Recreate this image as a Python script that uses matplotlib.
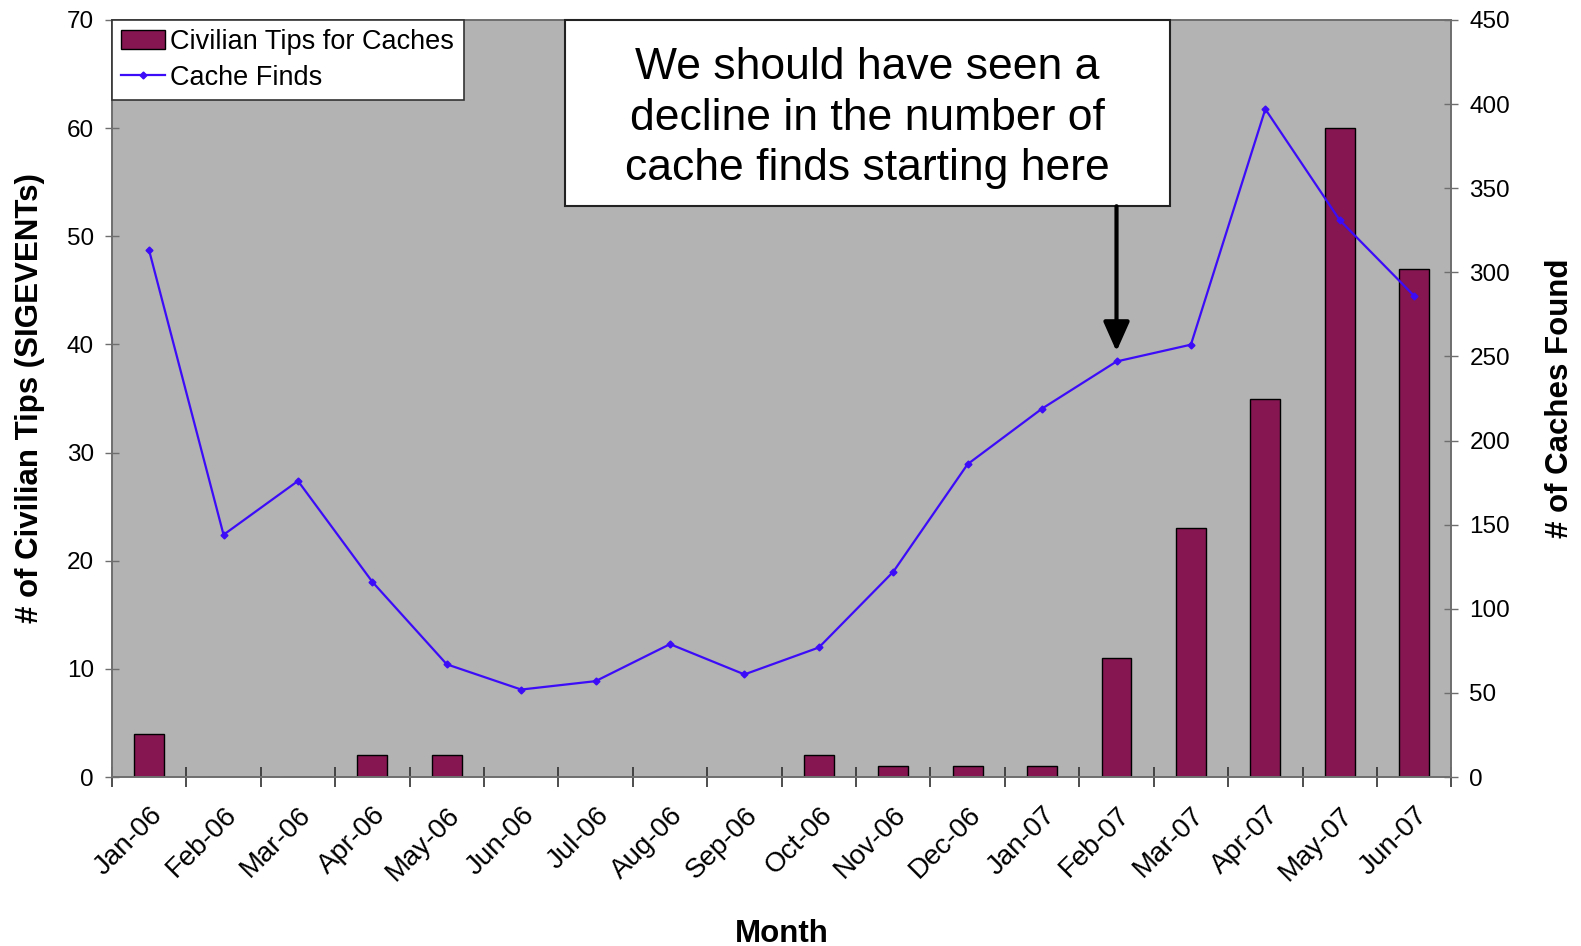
"""Civilian tips vs cache finds, Jan-06 to Jun-07."""
import matplotlib
matplotlib.use("Agg")
import matplotlib.pyplot as plt
import matplotlib.transforms as mtransforms
from matplotlib.patches import Rectangle
from matplotlib.lines import Line2D
import numpy as np

plt.rcParams["font.family"] = ["Liberation Sans", "DejaVu Sans"]

MONTHS = ["Jan-06", "Feb-06", "Mar-06", "Apr-06", "May-06", "Jun-06",
          "Jul-06", "Aug-06", "Sep-06", "Oct-06", "Nov-06", "Dec-06",
          "Jan-07", "Feb-07", "Mar-07", "Apr-07", "May-07", "Jun-07"]
TIPS = [4, 0, 0, 2, 2, 0, 0, 0, 0, 2, 1, 1, 1, 11, 23, 35, 60, 47]
CACHE_FINDS = [313, 144, 176, 116, 67, 52, 57, 79, 61, 77, 122, 186,
               219, 247, 257, 397, 331, 286]

BAR_COLOR = "#861651"
LINE_COLOR = "#3C0CF8"
BG_COLOR = "#B3B3B3"
SPINE_COLOR = "#6E6E6E"

fig = plt.figure(figsize=(15.81, 9.46), dpi=100)
ax = fig.add_axes([0.0708, 0.1786, 0.8472, 0.8003])
ax.set_facecolor(BG_COLOR)

x = np.arange(len(MONTHS))
ax.bar(x, TIPS, width=0.4, color=BAR_COLOR, edgecolor="black",
       linewidth=1.0, zorder=2)
ax.set_xlim(-0.5, len(MONTHS) - 0.5)
ax.set_ylim(0, 70)
ax.set_yticks(np.arange(0, 71, 10))

# ticks at category boundaries, labels at category centres
ax.set_xticks(np.arange(-0.5, len(MONTHS), 1.0))
ax.set_xticklabels([])
ax.set_xticks(x, minor=True)
ax.set_xticklabels(MONTHS, minor=True, rotation=45, ha="right",
                   rotation_mode="anchor", fontsize=20)
ax.tick_params(axis="x", which="minor", length=0, pad=18)
ax.tick_params(axis="x", which="major", direction="inout", length=14,
               width=1.2, color="#303030")
ax.tick_params(axis="y", direction="inout", length=10, width=1.0,
               color=SPINE_COLOR, labelsize=17.5, pad=8)

ax2 = ax.twinx()
ax2.patch.set_visible(False)
ax2.plot(x, CACHE_FINDS, color=LINE_COLOR, lw=1.6, marker="D",
         markersize=3.5, zorder=3)
ax2.set_ylim(0, 450)
ax2.set_yticks(np.arange(0, 451, 50))
ax2.tick_params(axis="y", direction="inout", length=10, width=1.0,
                color=SPINE_COLOR, labelsize=17.5, pad=8)

for a in (ax, ax2):
    for side in ("left", "right", "top", "bottom"):
        a.spines[side].set_color(SPINE_COLOR)
        a.spines[side].set_linewidth(1.2)

ax.set_ylabel("# of Civilian Tips (SIGEVENTs)", fontsize=22.5,
              fontweight="bold", labelpad=16)
ax2.set_ylabel("# of Caches Found", fontsize=22.5, fontweight="bold",
               labelpad=25)
ax.set_xlabel("Month", fontsize=22.5, fontweight="bold", labelpad=24)

# legend
handles = [
    Rectangle((0, 0), 1, 1, facecolor=BAR_COLOR, edgecolor="black", lw=1.0),
    Line2D([], [], color=LINE_COLOR, lw=1.6, marker="D", markersize=3.5),
]
leg = ax2.legend(handles, ["Civilian Tips for Caches", "Cache Finds"],
                 loc="upper left", bbox_to_anchor=(0.0, 1.0), fontsize=19.5,
                 frameon=True, fancybox=False, framealpha=1.0,
                 edgecolor="#333333", borderaxespad=0.0, handlelength=1.6,
                 handletextpad=0.2, labelspacing=0.35, borderpad=0.35)
leg.get_frame().set_linewidth(1.2)
leg.set_zorder(10)

# annotation box
box = Rectangle((0.338, 0.754), 0.452, 0.246, transform=ax2.transAxes,
                facecolor="white", edgecolor="#222222", lw=1.5, zorder=8,
                clip_on=False)
ax2.add_patch(box)
ax2.text(0.564, 0.870,
         "We should have seen a\ndecline in the number of\ncache finds starting here",
         transform=ax2.transAxes, ha="center", va="center", fontsize=32,
         linespacing=1.3, zorder=9)

blend = mtransforms.blended_transform_factory(ax2.transData, ax2.transAxes)
ax2.annotate("", xy=(13, CACHE_FINDS[13] + 6), xycoords="data",
             xytext=(13, 0.754), textcoords=blend,
             arrowprops=dict(arrowstyle="-|>,head_length=0.9,head_width=0.4",
                             color="black", lw=3, mutation_scale=20,
                             shrinkA=0, shrinkB=0),
             zorder=9)

fig.savefig("out.png", dpi=100, facecolor="white")
